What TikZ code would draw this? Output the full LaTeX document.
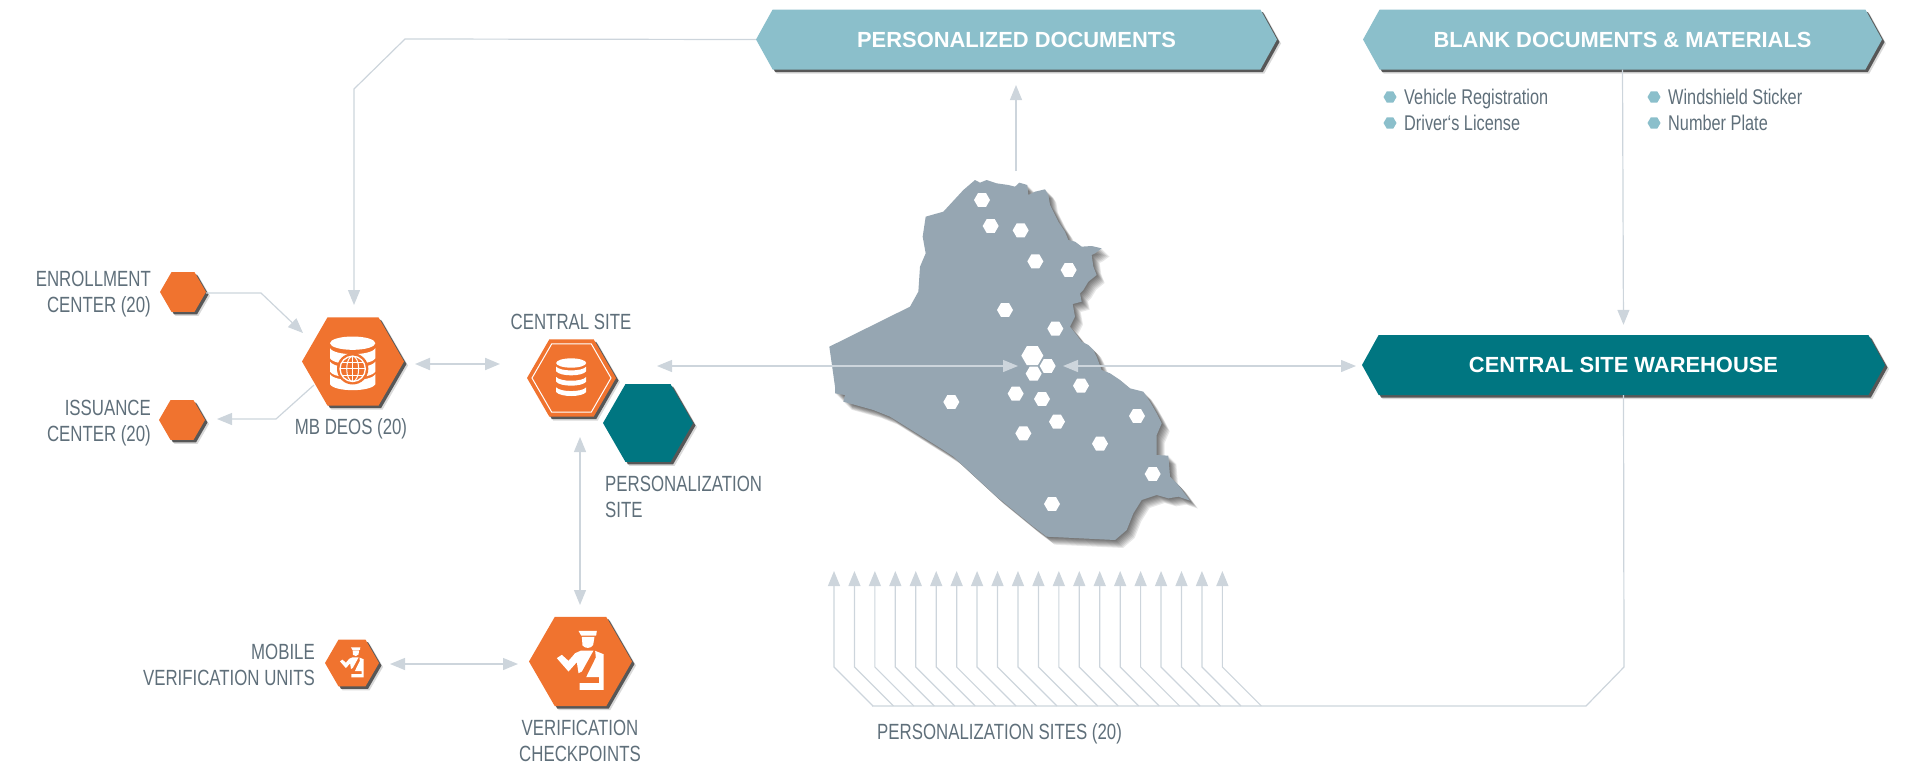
\documentclass[tikz,border=0pt]{standalone}
\usepackage{fontspec}
\usetikzlibrary{arrows.meta}
\usetikzlibrary{shapes.geometric,shapes.symbols,shadows}
\setmainfont{Liberation Sans}
\newfontfamily\condfont[FakeStretch=.765]{Liberation Sans}
\definecolor{hexorange}{HTML}{F0732F}
\definecolor{hexteal}{HTML}{007681}
\definecolor{bannerblue}{HTML}{8BBFCB}
\definecolor{mapgrey}{HTML}{96A6B2}
\definecolor{linegrey}{HTML}{CDD5DC}
\definecolor{labelgrey}{HTML}{5F6F7A}
\newcommand{\mapoutline}{(585,60)--(600,68)--(620,60)--(650,70)--(685,75)--(705,80)--(718,68)--(742,75)--(745,105)--(765,95)--(795,88)--(805,105)--(810,135)--(825,165)--(835,185)--(855,215)--(865,240)--(885,245)--(905,260)--(935,258)--(965,265)--(945,280)--(935,285)--(940,320)--(950,345)--(925,365)--(910,390)--(900,400)--(905,425)--(878,432)--(885,470)--(870,500)--(890,525)--(905,545)--(925,555)--(940,570)--(950,590)--(965,630)--(990,640)--(1020,660)--(1050,685)--(1070,690)--(1090,695)--(1110,725)--(1130,760)--(1145,790)--(1130,825)--(1130,885)--(1165,887)--(1170,950)--(1195,975)--(1230,1022)--(1195,1010)--(1165,1015)--(1130,1005)--(1085,1020)--(1060,1060)--(1040,1110)--(1005,1140)--(800,1130)--(760,1100)--(650,1010)--(520,890)--(490,870)--(330,770)--(280,750)--(190,725)--(195,705)--(165,700)--(165,680)--(148,560)--(390,440)--(415,395)--(420,320)--(437,280)--(428,230)--(437,170)--(490,155)--(550,90)--cycle}
\tikzset{
  softshadow/.style={drop shadow={shadow xshift=4pt,shadow yshift=-4pt,fill=black,opacity=.15},
    drop shadow={shadow xshift=2.5pt,shadow yshift=-2.5pt,fill=black,opacity=.6}},
  hexnode/.style={regular polygon,regular polygon sides=6,inner sep=0pt,softshadow,fill=#1},
  mapsite/.style={regular polygon,regular polygon sides=6,inner sep=0pt,fill=white,minimum size=16pt},
  bullethex/.style={regular polygon,regular polygon sides=6,inner sep=0pt,fill=bannerblue,minimum size=13pt},
  banner/.style={signal,signal to=east and west,signal pointer angle=122,inner sep=0pt,softshadow,fill=#1,
    text=white,font=\fontsize{21.9}{26}\selectfont\bfseries,minimum height=60pt},
  labeltext/.style={inner sep=0pt,text=labelgrey,font=\fontsize{22}{25.5}\selectfont\condfont},
  itemtext/.style={inner sep=0pt,text=labelgrey,anchor=base west,font=\fontsize{21.3}{24}\selectfont\condfont},
  wire/.style={draw=linegrey,line width=1.2pt},
  thickwire/.style={draw=linegrey,line width=2pt},
  officer/.pic={
    \begin{scope}[shift={(-166,-140)}]
    \fill[white] (160,48)--(215,48)--(213,62)--(168,62)--cycle;
    \fill[white] (170,66)--(208,66)--(204,90) .. controls (198,102) and (180,102) .. (172,92)--cycle;
    \fill[white] (210,108)--(235,118)--(235,225)--(163,225)--(163,205)--(222,205)--(222,187)--(183,187)--(212,128)--cycle;
    \fill[white] (95,130)--(110,120)--(130,138)--(150,115)--(168,107)--(205,107)--(170,170)--(160,175)--(155,142)--(130,170)--cycle;
    \end{scope}
  },
  globedb/.pic={
    \begin{scope}[shift={(-166,-140)}]
    \fill[white] (165,85) ellipse[x radius=68,y radius=20];
    \foreach \dy in {0,40,78}{
      \fill[white] (97,100+\dy) .. controls (110,124+\dy) and (220,124+\dy) .. (233,100+\dy)--(233,130+\dy) .. controls (220,154+\dy) and (110,154+\dy) .. (97,130+\dy)--cycle;
    }
    \fill[hexorange] (165,162) circle[radius=47];
    \draw[white,line width=1.3pt] (165,162) circle[radius=38];
    \draw[white,line width=1pt] (165,162) ellipse[x radius=18,y radius=38];
    \draw[white,line width=1pt] (165,124)--(165,200) (127,162)--(203,162) (133,143)--(197,143) (133,181)--(197,181);
    \end{scope}
  },
  stackdb/.pic={
    \begin{scope}[shift={(-156,-145)}]
    \fill[white] (155,100) ellipse[x radius=45,y radius=14];
    \foreach \dy in {0,31,62}{
      \fill[white] (110,111+\dy) .. controls (122,126+\dy) and (188,126+\dy) .. (200,111+\dy)--(200,125+\dy) .. controls (188,141+\dy) and (122,141+\dy) .. (110,125+\dy)--cycle;
    }
    \end{scope}
  }
}
\begin{document}
\begin{tikzpicture}[x=1pt,y=-1pt,>={Triangle[width=12pt,length=15pt]}]
\useasboundingbox (0,0) rectangle (1910,766);

\begin{scope}[shift={(780,160)},scale=1/3]
\foreach \o in {3,6,...,24}{
  \fill[black,opacity=.09,shift={(\o,\o)}] \mapoutline;
}
\fill[mapgrey] \mapoutline;
\foreach \px/\py [count=\i] in {606/120,632/198,722/211,766/304,866/330,675/450,826/506,803/618,761/641,903/677,707/701,786/717,514/726,831/785,730/820,1071/768,960/851,1118/942,816/1032}{
  \node[mapsite] (mapsite\i) at (\px,\py) {};
}
\node[mapsite,minimum size=22pt] (capital) at (757,587) {};
\end{scope}

\node[banner=bannerblue,minimum width=521pt] (personalized) at (1016.5,39.5) {PERSONALIZED DOCUMENTS};
\node[banner=bannerblue,minimum width=519pt] (blank) at (1622.5,39.5) {BLANK DOCUMENTS \& MATERIALS};
\node[banner=hexteal,minimum width=523pt] (warehouse) at (1623.5,365) {CENTRAL SITE WAREHOUSE};

\node[hexnode=hexorange,minimum size=46pt] (enrollment) at (183,292) {};
\node[hexnode=hexorange,minimum size=46pt] (issuance) at (182,420) {};
\node[hexnode=hexorange,minimum size=102pt] (mbdeos) at (353,361.5) {};
\node[hexnode=hexteal,minimum size=90pt] (persosite) at (648,423) {};
\node[hexnode=hexorange,minimum size=89pt] (central) at (571.5,378) {};
\node[regular polygon,regular polygon sides=6,draw=white,line width=1pt,minimum size=79pt,inner sep=0pt] (centralrim) at (central) {};
\node[hexnode=hexorange,minimum size=103pt] (checkpoint) at (580.5,661.5) {};
\node[hexnode=hexorange,minimum size=54pt] (mobile) at (352,663) {};

\pic[scale=1/3] at (mbdeos) {globedb};
\pic[scale=1/3] at (central) {stackdb};
\pic[scale=1/3] at (checkpoint) {officer};
\pic[scale=.17] at (mobile) {officer};

\node[labeltext,align=right,anchor=east] (enrolltext) at (151,294) {ENROLLMENT\\CENTER (20)};
\node[labeltext,align=right,anchor=east] (issuetext) at (151,423) {ISSUANCE\\CENTER (20)};
\node[labeltext] (mbtext) at (351,429) {MB DEOS (20)};
\node[labeltext] (centraltext) at (571,322) {CENTRAL SITE};
\node[labeltext,align=left,anchor=west] (persotext) at (605,497) {PERSONALIZATION\\SITE};
\node[labeltext,align=right,anchor=east] (mobiletext) at (315,665) {MOBILE\\VERIFICATION UNITS};
\node[labeltext,align=center] (checktext) at (580,741) {VERIFICATION\\CHECKPOINTS};
\node[labeltext,anchor=west] (sitestext) at (877,734) {PERSONALIZATION SITES (20)};

\node[bullethex] (bullet1) at (1390,97) {};
\node[bullethex] (bullet2) at (1390,123) {};
\node[bullethex] (bullet3) at (1654,97) {};
\node[bullethex] (bullet4) at (1654,123) {};
\node[itemtext] (item1) at (1404,104) {Vehicle Registration};
\node[itemtext] (item2) at (1404,130) {Driver‘s License};
\node[itemtext] (item3) at (1668,104) {Windshield Sticker};
\node[itemtext] (item4) at (1668,130) {Number Plate};

\coordinate (mapnorth) at (1016,171);
\coordinate (docstip) at (1016,85);
\coordinate (mbtop) at (354,305);
\coordinate (mbin) at (303,333);
\coordinate (mbout) at (314,385);
\coordinate (issuein) at (217,419);
\coordinate (mbright) at (415,364);
\coordinate (centralleft) at (500,364);
\coordinate (centralright) at (657,366);
\coordinate (mapwest) at (1018,366);
\coordinate (mapeast) at (1063,366);
\coordinate (warehousein) at (1356,366);
\coordinate (centraldown) at (580,437);
\coordinate (checkup) at (580,605);
\coordinate (mobileout) at (390,664);
\coordinate (checkin) at (518,664);

\draw[wire,->] (personalized.west) -- (405,39) -- (354,89) -- (mbtop);
\draw[wire,->] (mapnorth) -- (docstip);
\draw[wire,->,shorten >=10pt] (blank.south) -- (warehouse.north);
\draw[wire,->] (enrollment.east |- 0,293) -- (261,293) -- (mbin);
\draw[wire,->] (mbout) -- (276,419) -- (issuein);
\draw[thickwire,<->] (mbright) -- (centralleft);
\draw[wire,<->] (centralright) -- (mapwest);
\draw[wire,<->] (mapeast) -- (warehousein);
\draw[wire,<->] (centraldown) -- (checkup);
\draw[wire,<->] (mobileout) -- (checkin);

\draw[wire] (warehouse.south) -- (1624,667) -- (1586,706) -- (872,706);
\foreach \i in {0,...,19}{
  \coordinate (tip\i) at (834+20.44*\i,571);
  \draw[wire,->] (873+20.44*\i,706) -- (834+20.44*\i,667) -- (tip\i);
}
\end{tikzpicture}
\end{document}
